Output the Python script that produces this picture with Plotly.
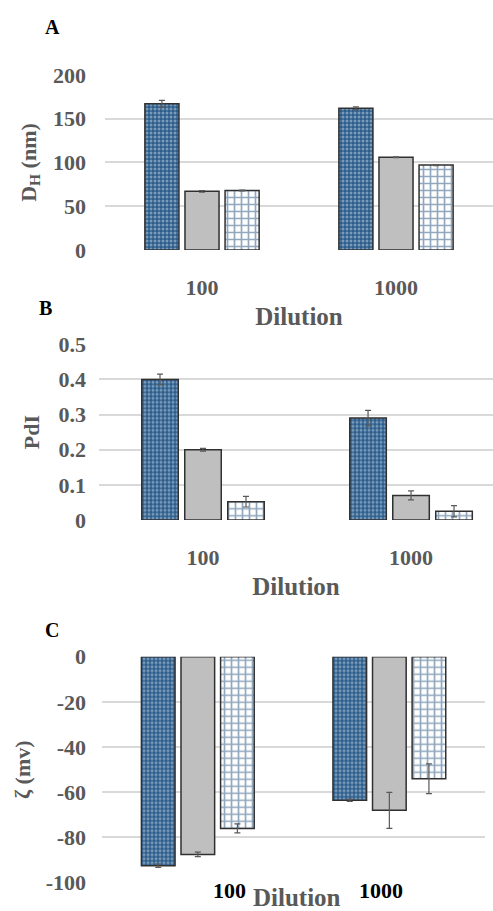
import plotly.graph_objects as go

categories = ["100", "1000"]

# Panel A: hydrodynamic diameter (nm)
dh_s1 = [167, 162]
dh_s2 = [67, 106]
dh_s3 = [68, 97]
dh_e1 = [4, 1.5]
dh_e2 = [1, 0.5]
dh_e3 = [0.5, 0.5]
dh_ticks = [0, 50, 100, 150, 200]
dh_ticktext = ["0", "50", "100", "150", "200"]

# Panel B: PdI
pdi_s1 = [0.40, 0.29]
pdi_s2 = [0.20, 0.07]
pdi_s3 = [0.052, 0.025]
pdi_e1 = [0.015, 0.022]
pdi_e2 = [0.004, 0.013]
pdi_e3 = [0.015, 0.016]
pdi_ticks = [0, 0.1, 0.2, 0.3, 0.4, 0.5]
pdi_ticktext = ["0", "0.1", "0.2", "0.3", "0.4", "0.5"]

# Panel C: zeta potential (mV)
z_s1 = [-92.5, -63.5]
z_s2 = [-87.5, -68]
z_s3 = [-76, -54]
z_e1 = [0.7, 0.5]
z_e2 = [1, 8]
z_e3 = [2, 6.6]
z_ticks = [0, -20, -40, -60, -80, -100]
z_ticktext = ["0", "-20", "-40", "-60", "-80", "-100"]

SERIF = "Liberation Serif"
GRAY = "#595959"
OUTLINE = "#303030"

styles = [
    dict(color="#2b5c8a", pattern=dict(shape=".", fgcolor="#c9d9ea", bgcolor="#2b5c8a",
                                       size=4, solidity=0.45, fillmode="overlay")),
    dict(color="#bfbfbf"),
    dict(color="white", pattern=dict(shape="+", fgcolor="#1f4e79", bgcolor="white",
                                     size=7, solidity=0.42, fillmode="overlay")),
]

fig = go.Figure()

panels = [
    ((dh_s1, dh_s2, dh_s3), (dh_e1, dh_e2, dh_e3), "x", "y"),
    ((pdi_s1, pdi_s2, pdi_s3), (pdi_e1, pdi_e2, pdi_e3), "x2", "y2"),
    ((z_s1, z_s2, z_s3), (z_e1, z_e2, z_e3), "x3", "y3"),
]

for vals, errs, xa, ya in panels:
    for i in range(3):
        m = dict(styles[i])
        m["line"] = dict(color=OUTLINE, width=1.5)
        fig.add_trace(go.Bar(
            x=categories, y=vals[i], xaxis=xa, yaxis=ya,
            marker=m, showlegend=False, hoverinfo="skip",
            error_y=dict(type="data", array=errs[i], color=GRAY, thickness=1.2, width=3),
        ))

tickfont = dict(family=SERIF, size=22, color=GRAY)
titlefont = dict(family=SERIF, size=22, color=GRAY)
catfont = dict(family=SERIF, size=22, color=GRAY)
dilfont = dict(family=SERIF, size=25, color=GRAY)


def yax(domain, rng, tickvals, ticktext, title, standoff):
    return dict(domain=domain, range=rng, tickmode="array", tickvals=tickvals,
                ticktext=[f"<b>{t}</b>" for t in ticktext], showgrid=True,
                gridcolor="#d9d9d9", gridwidth=1.5, zeroline=False, showline=False,
                tickfont=tickfont, ticks="", ticklabelstandoff=18,
                title=dict(text=title, font=titlefont, standoff=standoff), automargin=False)


fig.update_layout(
    width=493, height=911,
    margin=dict(l=0, r=0, t=0, b=0),
    plot_bgcolor="white", paper_bgcolor="white",
    barmode="group", bargap=0.38, bargroupgap=0.15,
    font=dict(family=SERIF),
    xaxis=dict(domain=[0.213, 1.0], range=[-0.5, 1.5], anchor="y", type="category",
               showgrid=False, showline=False, ticks="", tickfont=catfont, ticklabelstandoff=22,
               tickprefix="<b>", ticksuffix="</b>",
               title=dict(text="<b>Dilution</b>", font=dilfont, standoff=8), automargin=False),
    yaxis=yax([0.7256, 0.9177], [0, 200], dh_ticks, dh_ticktext, "<b>D<sub>H</sub> (nm)</b>", 10),
    xaxis2=dict(domain=[0.2008, 1.0], range=[-0.5, 1.394], anchor="y2", type="category",
                showgrid=False, showline=False, ticks="", tickfont=catfont, ticklabelstandoff=22,
                tickprefix="<b>", ticksuffix="</b>",
                title=dict(text="<b>Dilution</b>", font=dilfont, standoff=8), automargin=False),
    yaxis2=yax([0.4292, 0.6221], [0, 0.5], pdi_ticks, pdi_ticktext, "<b>PdI</b>", 12),
    xaxis3=dict(domain=[0.207, 0.984], range=[-0.5, 1.5], anchor="y3", type="category",
                showgrid=False, showline=False, ticks="", showticklabels=False,
                automargin=False),
    yaxis3=yax([0.0311, 0.2791], [-100, 0], z_ticks, z_ticktext, "<b>ζ (mv)</b>", 8),
)

annotations = [
    dict(text="<b>A</b>", x=52 / 493, y=1 - 27 / 911),
    dict(text="<b>B</b>", x=45 / 493, y=1 - 308 / 911),
    dict(text="<b>C</b>", x=52 / 493, y=1 - 630 / 911),
]
for a in annotations:
    fig.add_annotation(xref="paper", yref="paper", showarrow=False,
                       font=dict(family=SERIF, size=20, color="black"),
                       xanchor="center", yanchor="middle", **a)

# Panel C category labels (drawn offset below the plot, as in the original)
c_label_x = [229 / 493, 381 / 493]
for lab, px in zip(categories, c_label_x):
    fig.add_annotation(xref="paper", yref="paper", x=px, y=1 - 890 / 911,
                       text=f"<b>{lab}</b>", showarrow=False,
                       font=dict(family=SERIF, size=22, color="black"),
                       xanchor="center", yanchor="middle")
fig.add_annotation(xref="paper", yref="paper", x=297 / 493, y=1 - 897 / 911,
                   text="<b>Dilution</b>", showarrow=False, font=dilfont,
                   xanchor="center", yanchor="middle")

fig.write_html("out.html", config={"displayModeBar": False},
               post_script="document.body.style.margin='0';")
